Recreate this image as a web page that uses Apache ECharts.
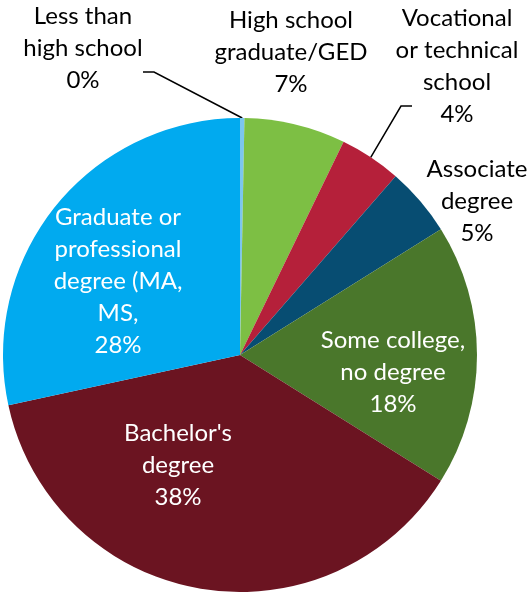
<!DOCTYPE html>
<html>
<head>
<meta charset="utf-8">
<script src="https://cdn.jsdelivr.net/npm/echarts@6/dist/echarts.min.js"></script>
<style>
  html, body { margin: 0; padding: 0; background: #fff; }
  #chart { width: 528px; height: 592px; }
</style>
</head>
<body>
<div id="chart"></div>
<script>
  // education level shares, clockwise from 12 o'clock
  const categories = ['Less than high school', 'High school graduate/GED', 'Vocational or technical school',
    'Associate degree', 'Some college, no degree', "Bachelor's degree", 'Graduate or professional degree (MA, MS,'];
  const labelText = ['Less than\nhigh school', 'High school\ngraduate/GED', 'Vocational\nor technical\nschool',
    'Associate\ndegree', 'Some college,\nno degree', "Bachelor's\ndegree", 'Graduate or\nprofessional\ndegree (MA,\nMS,'];
  const values = [0.3, 6.9, 4.2, 4.7, 17.8, 37.7, 28.4];

  const colors = ['#7CC6EE', '#7DBF44', '#B5203A', '#074D72', '#4A772B', '#6B1421', '#01AAEF'];
  const textColors = ['#000', '#000', '#000', '#000', '#fff', '#fff', '#fff'];
  const hasLine = [true, false, true, false, false, false, false];

  // label centres (px)
  const labelPos = [[83, 48], [291, 52], [457, 66], [477, 201], [393, 372], [178, 465], [118, 281]];
  // leader line end: [dx from centre, dy from centre, elbow length]
  const lineEnd = { 0: [60, 24, 11], 2: [-45, 40, -11] };

  const chart = echarts.init(document.getElementById('chart'));

  const option = {
    animation: false,
    series: [{
      type: 'pie',
      center: [240, 355],
      radius: 237,
      startAngle: 90,
      clockwise: true,
      avoidLabelOverlap: false,
      emphasis: { disabled: true },
      itemStyle: { borderWidth: 0 },
      label: {
        show: true,
        position: 'outside',
        fontFamily: 'Lato',
        fontSize: 24,
        lineHeight: 32,
        align: 'center',
        formatter: function (p) {
          return labelText[p.dataIndex] + '\n' + Math.round(p.percent) + '%';
        }
      },
      labelLine: {
        show: true,
        length: 10,
        length2: 10,
        lineStyle: { color: '#000', width: 1.5 }
      },
      labelLayout: function (p) {
        const i = p.dataIndex;
        const pos = labelPos[i];
        const res = { x: pos[0], y: pos[1], align: 'center', verticalAlign: 'middle' };
        const e = lineEnd[i];
        if (e && p.labelLinePoints) {
          const ex = pos[0] + e[0], ey = pos[1] + e[1];
          res.labelLinePoints = [p.labelLinePoints[0], [ex + e[2], ey], [ex, ey]];
        }
        return res;
      },
      data: categories.map(function (c, i) {
        return {
          name: c,
          value: values[i],
          itemStyle: { color: colors[i] },
          label: { color: textColors[i] },
          labelLine: { show: hasLine[i] }
        };
      })
    }]
  };

  chart.setOption(option);
</script>
</body>
</html>
